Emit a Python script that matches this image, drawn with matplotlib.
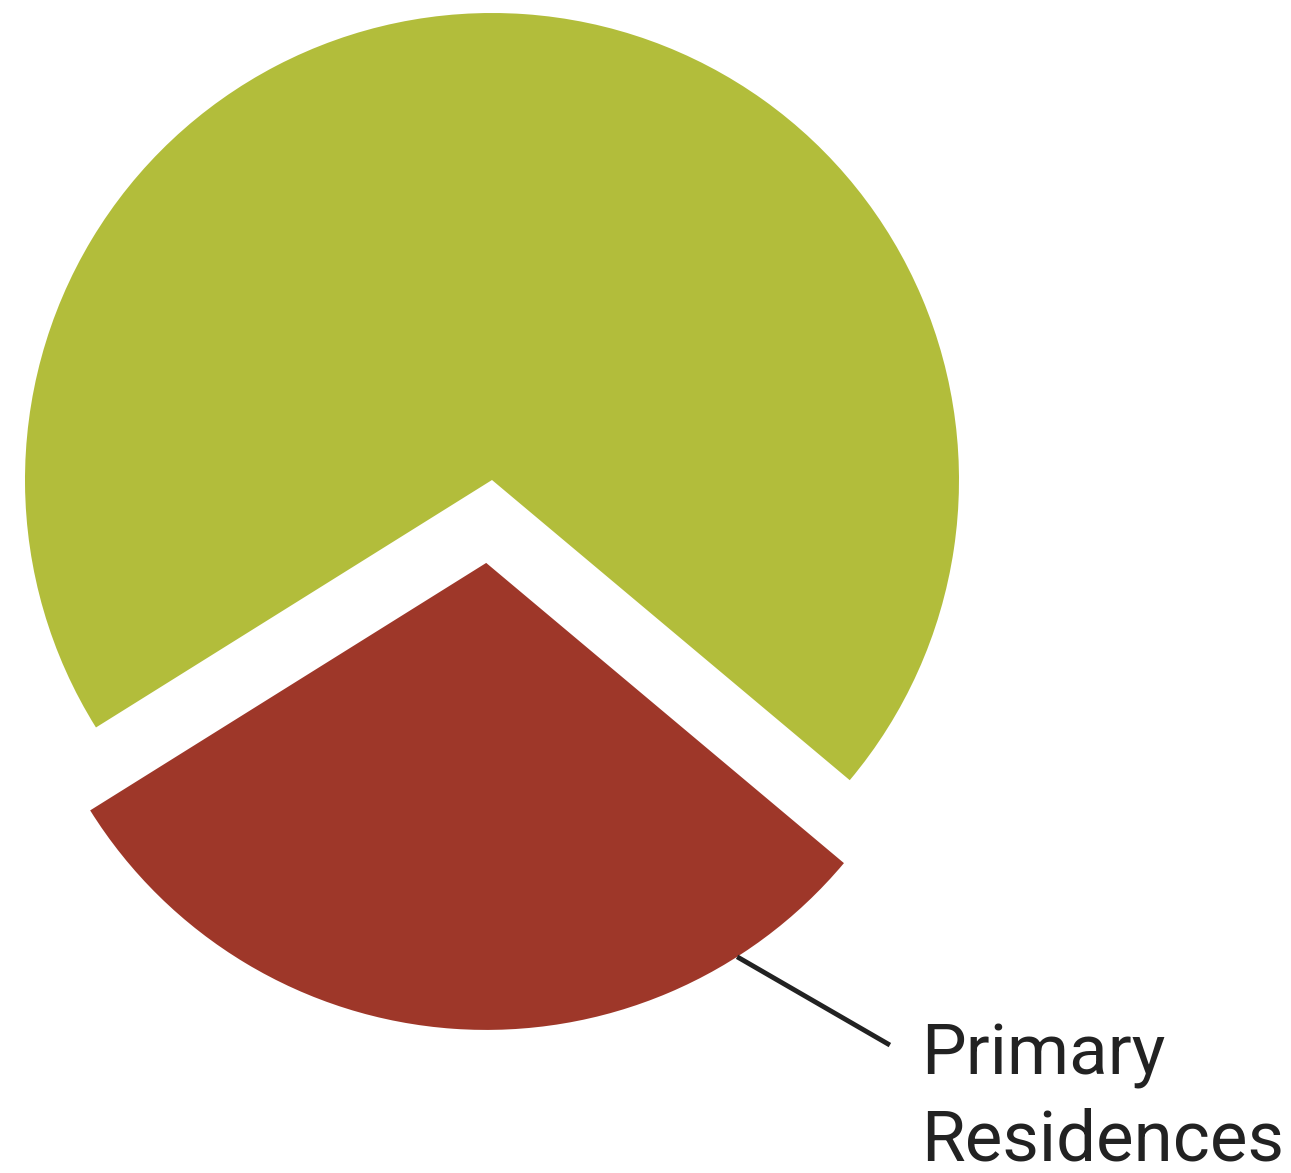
import numpy as np
import matplotlib.pyplot as plt

labels = ['Primary Residences', 'Other']
shares = [30, 70]
colors = ['#9E3729', '#B2BD3B']
explode = [0.178, 0]

fig = plt.figure(figsize=(12.91, 11.73), dpi=100)
ax = fig.add_axes([0, 0, 1, 1])

wedges, _ = ax.pie(shares, colors=colors, explode=explode, startangle=212,
                   counterclock=True, radius=1.0)

# callout for the exploded slice
w = wedges[0]
cx, cy = w.center
ang = np.deg2rad(302.5)
x0, y0 = cx + w.r * np.cos(ang), cy + w.r * np.sin(ang)
ax.plot([x0, 0.852], [y0, -1.21], color='#222222', lw=3.5, solid_capstyle='butt')
ax.text(0.919, -1.16, 'Primary\nResidences', ha='left', va='top',
        fontsize=51, family=['Roboto', 'DejaVu Sans'], color='#222222',
        linespacing=1.36)

ax.set_xlim(-492 / 467, (1291 - 492) / 467)
ax.set_ylim(-(1173 - 480) / 467, 480 / 467)
ax.set_aspect('equal')
ax.axis('off')

fig.savefig('out.png', dpi=100)
